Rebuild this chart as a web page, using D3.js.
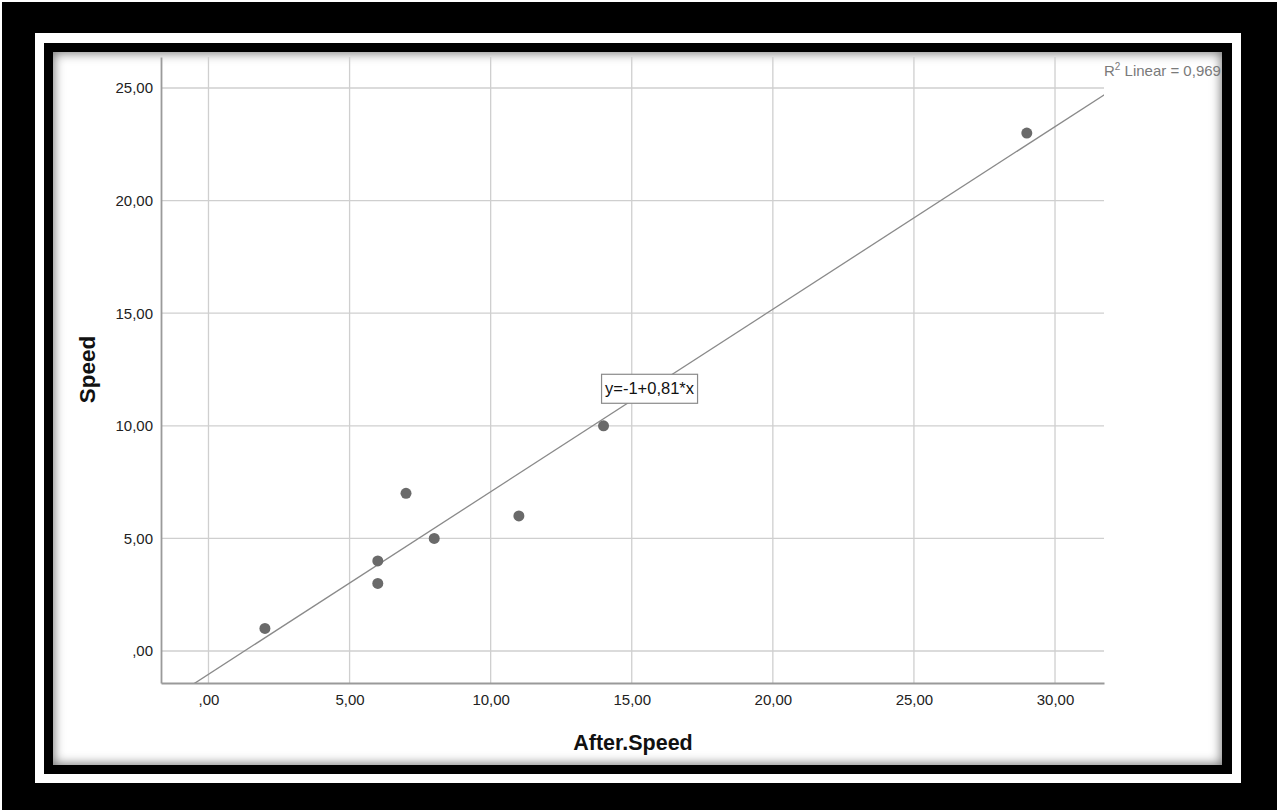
<!DOCTYPE html>
<html>
<head>
<meta charset="utf-8">
<script src="https://cdn.jsdelivr.net/npm/d3@7"></script>
<style>
    body { margin: 0; background: #fff; }
    #page { position: relative; width: 1277px; height: 810px; overflow: hidden; background: #fff; }
    .frame { position: absolute; box-sizing: border-box; }
    #outer { left: 2px; top: 2px; width: 1275px; height: 808px; background: #000; }
    #white { left: 35px; top: 33px; width: 1206px; height: 750px; background: #fff; }
    #inner { left: 44px; top: 43px; width: 1188px; height: 731px; background: #000; }
    #panel { left: 53px; top: 52px; width: 1169px; height: 713px; background: #fff;
             box-shadow: inset 0 0 11px 1px rgba(0,0,0,0.55); }
    svg { position: absolute; left: 0; top: 0; }
</style>
</head>
<body>
<div id="page">
    <div class="frame" id="outer"></div>
    <div class="frame" id="white"></div>
    <div class="frame" id="inner"></div>
    <div class="frame" id="panel"></div>
</div>
<script>
// Data
const afterSpeed = [2, 6, 6, 7, 8, 11, 14, 29];
const speed = [1, 4, 3, 7, 5, 6, 10, 23];
const xTicks = [0, 5, 10, 15, 20, 25, 30];
const yTicks = [0, 5, 10, 15, 20, 25];
const xLabel = 'After.Speed';
const yLabel = 'Speed';
const equationText = 'y=-1+0,81*x';
const r2Value = '0,969';

const width = 1277, height = 810;
const plot = { left: 161, right: 1104, top: 57, bottom: 683 };

const fmt = v => (v === 0 ? ',00' : d3.format('.2f')(v).replace('.', ','));

const x = d3.scaleLinear().domain([-1.683, 31.736]).range([plot.left, plot.right]);
const y = d3.scaleLinear().domain([-1.421, 26.377]).range([plot.bottom, plot.top]);

// least squares fit
const mx = d3.mean(afterSpeed), my = d3.mean(speed);
const sxy = d3.sum(afterSpeed, (v, i) => (v - mx) * (speed[i] - my));
const sxx = d3.sum(afterSpeed, v => (v - mx) * (v - mx));
const slope = sxy / sxx;
const intercept = my - slope * mx;

const svg = d3.select('#page').append('svg')
    .attr('width', width)
    .attr('height', height);

svg.append('defs').append('clipPath').attr('id', 'plotClip')
    .append('rect')
    .attr('x', plot.left).attr('y', plot.top)
    .attr('width', plot.right - plot.left)
    .attr('height', plot.bottom - plot.top);

// Grid lines
const grid = svg.append('g');
grid.selectAll('.vg').data(xTicks).enter().append('line')
    .attr('x1', d => x(d)).attr('x2', d => x(d))
    .attr('y1', plot.top).attr('y2', plot.bottom)
    .attr('stroke', '#cfcfcf').attr('stroke-width', 1.3);
grid.selectAll('.hg').data(yTicks).enter().append('line')
    .attr('x1', plot.left).attr('x2', plot.right)
    .attr('y1', d => y(d)).attr('y2', d => y(d))
    .attr('stroke', '#cfcfcf').attr('stroke-width', 1.3);

// Axes
const xAxis = svg.append('g')
    .attr('transform', `translate(0,${plot.bottom})`)
    .call(d3.axisBottom(x).tickValues(xTicks).tickFormat(fmt).tickSize(0).tickPadding(11));
const yAxis = svg.append('g')
    .attr('transform', `translate(${plot.left},0)`)
    .call(d3.axisLeft(y).tickValues(yTicks).tickFormat(fmt).tickSize(0).tickPadding(8));

[xAxis, yAxis].forEach(a => {
    a.select('.domain').attr('stroke', '#9a9a9a').attr('stroke-width', 1.8);
    a.selectAll('text')
        .attr('fill', '#222')
        .style('font-family', 'Liberation Sans, Arial, sans-serif')
        .style('font-size', '15px');
});

// Regression line
svg.append('line')
    .attr('clip-path', 'url(#plotClip)')
    .attr('x1', x(-2)).attr('y1', y(intercept + slope * -2))
    .attr('x2', x(33)).attr('y2', y(intercept + slope * 33))
    .attr('stroke', '#8a8a8a').attr('stroke-width', 1.3);

// Points
svg.append('g').selectAll('circle')
    .data(afterSpeed.map((v, i) => ({ x: v, y: speed[i] })))
    .enter().append('circle')
    .attr('cx', d => x(d.x))
    .attr('cy', d => y(d.y))
    .attr('r', 5.5)
    .attr('fill', '#6a6a6a');

// Equation label
const eq = svg.append('g').attr('transform', `translate(${x(13.93)},${y(11.0)})`);
eq.append('rect')
    .attr('x', 0).attr('y', -29)
    .attr('width', 96).attr('height', 29)
    .attr('fill', '#fff').attr('stroke', '#8a8a8a').attr('stroke-width', 1.2);
eq.append('text')
    .attr('x', 48).attr('y', -9)
    .attr('text-anchor', 'middle')
    .attr('fill', '#111')
    .style('font-family', 'Liberation Sans, Arial, sans-serif')
    .style('font-size', '16.5px')
    .text(equationText);

// R² label
const r2 = svg.append('text')
    .attr('x', plot.right).attr('y', 76)
    .attr('fill', '#7a7a7a')
    .style('font-family', 'Liberation Sans, Arial, sans-serif')
    .style('font-size', '15px');
r2.append('tspan').text('R');
r2.append('tspan').attr('dy', -6).style('font-size', '10px').text('2');
r2.append('tspan').attr('dy', 6).text(' Linear = ' + r2Value);

// Axis titles
svg.append('text')
    .attr('x', (plot.left + plot.right) / 2 + 0.5)
    .attr('y', 750)
    .attr('text-anchor', 'middle')
    .attr('fill', '#111')
    .style('font-family', 'Liberation Sans, Arial, sans-serif')
    .style('font-weight', 'bold')
    .style('font-size', '21.5px')
    .text(xLabel);
svg.append('text')
    .attr('transform', `translate(95,${(plot.top + plot.bottom) / 2 - 0.5}) rotate(-90)`)
    .attr('text-anchor', 'middle')
    .attr('fill', '#111')
    .style('font-family', 'Liberation Sans, Arial, sans-serif')
    .style('font-weight', 'bold')
    .style('font-size', '22.5px')
    .text(yLabel);
</script>
</body>
</html>
